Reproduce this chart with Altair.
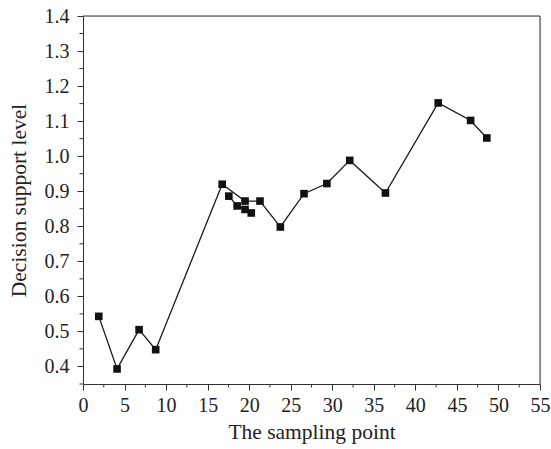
import altair as alt
import pandas as pd

# Main connected series
x_main = [1.9, 4.1, 6.75, 8.75, 16.75, 19.5, 21.3, 23.75, 26.6, 29.35, 32.1, 36.4, 42.75, 46.65, 48.6]
y_main = [0.543, 0.393, 0.505, 0.448, 0.920, 0.872, 0.872, 0.798, 0.893, 0.922, 0.988, 0.895, 1.152, 1.102, 1.052]
# Cluster points near x = 17-20
x_clust = [17.55, 18.55, 19.5, 20.25]
y_clust = [0.886, 0.858, 0.848, 0.838]

x_ticks = [0, 5, 10, 15, 20, 25, 30, 35, 40, 45, 50, 55]
y_ticks = [0.4, 0.5, 0.6, 0.7, 0.8, 0.9, 1.0, 1.1, 1.2, 1.3, 1.4]
x_minor = [2.5, 7.5, 12.5, 17.5, 22.5, 27.5, 32.5, 37.5, 42.5, 47.5, 52.5]
y_minor = [0.35, 0.45, 0.55, 0.65, 0.75, 0.85, 0.95, 1.05, 1.15, 1.25, 1.35]

W, H = 457, 368
FONT = "Liberation Serif"

df = pd.DataFrame({
    "x": x_main + x_clust,
    "y": y_main + y_clust,
    "grp": ["a"] * len(x_main) + ["b"] * len(x_clust),
    "ord": list(range(len(x_main))) + list(range(len(x_clust))),
})
dxm = pd.DataFrame({"x": x_minor})
dym = pd.DataFrame({"y": y_minor})

xs = alt.Scale(domain=[0, 55], nice=False, zero=False)
ys = alt.Scale(domain=[0.35, 1.4], nice=False, zero=False)

common = dict(grid=False, tickSize=6, labelFont=FONT, labelFontSize=20, titleFont=FONT,
              titleFontSize=21.5, titleFontWeight="normal", labelColor="#222",
              titleColor="#222", domainColor="#333", tickColor="#333",
              labelFlush=False, labelOverlap=False)
xaxis = alt.Axis(values=x_ticks, title="The sampling point", labelPadding=5,
                 titlePadding=6, **common)
yaxis = alt.Axis(values=y_ticks, title="Decision support level", format=".1f",
                 labelPadding=8, titlePadding=14, **common)

X = alt.X("x:Q", scale=xs, axis=xaxis)
Y = alt.Y("y:Q", scale=ys, axis=yaxis)

line = alt.Chart(df).mark_line(color="#1a1a1a", strokeWidth=1.3).encode(
    x=X, y=Y, detail="grp:N", order="ord:Q")
pts = alt.Chart(df).mark_point(shape="square", filled=True, size=58, color="#111",
                               opacity=1).encode(x=X, y=Y)

xm = alt.Chart(dxm).mark_rule(color="#333", strokeWidth=1).encode(
    x=X, y=alt.value(H), y2=alt.value(H + 3.5))
ym = alt.Chart(dym).mark_rule(color="#333", strokeWidth=1).encode(
    y=Y, x=alt.value(0), x2=alt.value(-3.5))
frame = alt.Chart(pd.DataFrame({"a": [0]})).mark_rule(color="#333", strokeWidth=1).encode(
    x=alt.value(0), x2=alt.value(W), y=alt.value(0))
frame2 = alt.Chart(pd.DataFrame({"a": [0]})).mark_rule(color="#333", strokeWidth=1).encode(
    x=alt.value(W), y=alt.value(0), y2=alt.value(H))

chart = alt.layer(line, pts, xm, ym, frame, frame2).properties(
    width=W, height=H,
    autosize=alt.AutoSizeParams(type="none"),
    padding={"left": 83, "top": 16, "right": 11, "bottom": 65},
).configure_view(stroke=None).configure_axis(labelOverlap=False).configure(background="white")

chart.save("out.html", embed_options={"renderer": "svg", "actions": False})
